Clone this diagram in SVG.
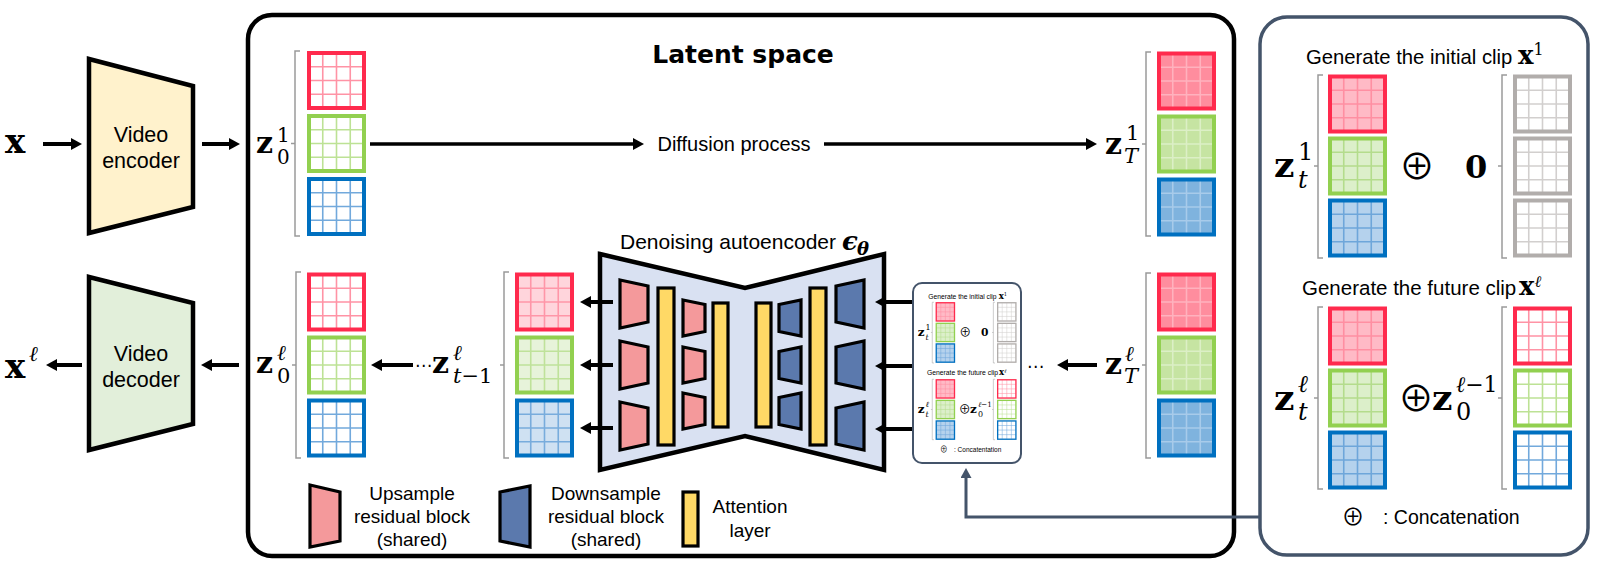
<svg xmlns="http://www.w3.org/2000/svg" xmlns:xlink="http://www.w3.org/1999/xlink" width="1599" height="568" viewBox="0 0 1599 568">
<style>
.txt{font-family:"Liberation Sans",Arial,sans-serif;fill:#000}
.ttl{font-family:"DejaVu Sans",sans-serif;font-weight:bold;font-size:25px;fill:#000}
.m{font-family:"DejaVu Serif","Liberation Serif",serif;fill:#000}
.b{font-weight:bold}
.i{font-style:italic}
.sym{font-family:"DejaVu Sans",sans-serif;fill:#000}
.op{font-family:"Noto Sans CJK JP","Noto Sans CJK SC","DejaVu Sans",sans-serif;fill:#000}
.arr{stroke:#000;stroke-width:4;fill:none}
.arrd{stroke:#000;stroke-width:3.5;fill:none}
.brk{stroke:#9a9a9a;stroke-width:1.5;fill:none}
.blk{stroke:#000;stroke-width:3.2;stroke-linejoin:miter}
.up{fill:#f4999b}
.dn{fill:#5b79ad}
.att{fill:#ffd966}
.gE-r{fill:#fff;stroke:#ff2a4d;color:#ff93a5}
.gE-g{fill:#fff;stroke:#92d050;color:#bde295}
.gE-b{fill:#fff;stroke:#0070c0;color:#72a9dc}
.gL-r{fill:#ffbac6;stroke:#ff2a4d;color:#ff8fa2}
.gL-g{fill:#dcefca;stroke:#92d050;color:#b4dc8c}
.gL-b{fill:#b5d2ed;stroke:#0070c0;color:#6ea6da}
.gP-r{fill:#ffd5dc;stroke:#ff2a4d;color:#ff96a8}
.gP-g{fill:#e7f3da;stroke:#92d050;color:#bfe29a}
.gP-b{fill:#cfe1f2;stroke:#0070c0;color:#78acdc}
.gS-r{fill:#ff8d9e;stroke:#ff2a4d;color:#ffb2be}
.gS-g{fill:#c6e4a2;stroke:#92d050;color:#dcefc6}
.gS-b{fill:#7fb3de;stroke:#0070c0;color:#a8cbea}
.gZ{fill:#fff;stroke:#b1adab;color:#d2cfce}
</style>
<defs>
<marker id="ah" markerUnits="userSpaceOnUse" markerWidth="11" markerHeight="12" viewBox="0 0 11 12" refX="1" refY="6" orient="auto"><path d="M0,0 L11,6 L0,12 Z" fill="#000"/></marker>
<marker id="ahs" markerUnits="userSpaceOnUse" markerWidth="10" markerHeight="11" viewBox="0 0 10 11" refX="1" refY="5.5" orient="auto"><path d="M0,0 L10,5.5 L0,11 Z" fill="#44546a"/></marker>
<g id="grid">
<rect x="2" y="2" width="55" height="55" stroke="none"/>
<path d="M15.75,3V56M29.5,3V56M43.25,3V56M3,15.75H56M3,29.5H56M3,43.25H56" fill="none" stroke="currentColor" stroke-width="1.6"/>
<rect x="2" y="2" width="55" height="55" fill="none" stroke-width="4"/>
</g>
<g id="panelBody">
<text class="txt" x="1306" y="64" font-size="20.3">Generate the initial clip</text>
<text class="m" x="1518" y="64" font-size="26"><tspan class="b">x</tspan><tspan font-size="16" dy="-9">1</tspan></text>
<path class="brk" d="M1323,75H1318V258H1323M1318,166H1314"/>
<use xlink:href="#grid" x="1328" y="74.5" class="gL-r"/>
<use xlink:href="#grid" x="1328" y="136.5" class="gL-g"/>
<use xlink:href="#grid" x="1328" y="198.5" class="gL-b"/>
<text class="m" x="1274" y="177" font-size="36"><tspan class="b">z</tspan><tspan x="1298" y="160" font-size="24">1</tspan><tspan x="1298" y="188" font-size="24" class="i">t</tspan></text>
<text class="op" x="1417" y="180" font-size="36" text-anchor="middle">⊕</text>
<text class="m b" x="1465" y="178" font-size="32">0</text>
<path class="brk" d="M1507,75H1502V258H1507M1502,166H1498"/>
<use xlink:href="#grid" x="1513" y="74.5" class="gZ"/>
<use xlink:href="#grid" x="1513" y="136.5" class="gZ"/>
<use xlink:href="#grid" x="1513" y="198.5" class="gZ"/>
<text class="txt" x="1302" y="295" font-size="20.5">Generate the future clip</text>
<text class="m" x="1519" y="295" font-size="26"><tspan class="b">x</tspan><tspan font-size="16" dy="-8" class="i">ℓ</tspan></text>
<path class="brk" d="M1323,307H1318V489H1323M1318,398H1314"/>
<use xlink:href="#grid" x="1328" y="306.5" class="gL-r"/>
<use xlink:href="#grid" x="1328" y="368.5" class="gL-g"/>
<use xlink:href="#grid" x="1328" y="430.5" class="gL-b"/>
<text class="m" x="1274" y="410" font-size="36"><tspan class="b">z</tspan><tspan x="1298" y="392" font-size="24" class="i">ℓ</tspan><tspan x="1298" y="420" font-size="24" class="i">t</tspan></text>
<text class="op" x="1416" y="412" font-size="36" text-anchor="middle">⊕</text>
<text class="m" x="1432" y="410" font-size="36"><tspan class="b">z</tspan><tspan x="1456" y="392" font-size="22"><tspan class="i">ℓ</tspan>−1</tspan><tspan x="1456" y="420" font-size="24">0</tspan></text>
<path class="brk" d="M1507,307H1502V489H1507M1502,398H1498"/>
<use xlink:href="#grid" x="1513" y="306.5" class="gE-r"/>
<use xlink:href="#grid" x="1513" y="368.5" class="gE-g"/>
<use xlink:href="#grid" x="1513" y="430.5" class="gE-b"/>
<text class="op" x="1353" y="525" font-size="23" text-anchor="middle">⊕</text>
</g>
</defs>
<rect x="0" y="0" width="1599" height="568" fill="#fff"/>

<g id="latent-space">
<rect x="248" y="15" width="986" height="541" rx="24" fill="#fff" stroke="#000" stroke-width="4.5"/>
<text class="ttl" x="743" y="63" text-anchor="middle">Latent space</text>
</g>

<g id="input-x">
<text class="m b" x="5" y="153" font-size="34">x</text>
</g>
<g id="video-encoder">
<polygon points="89,59 193,86 193,207 89,233" fill="#fff2cc" stroke="#000" stroke-width="4.5"/>
<text class="txt" x="141" y="142" font-size="21.5" text-anchor="middle">Video</text>
<text class="txt" x="141" y="168" font-size="21.5" text-anchor="middle">encoder</text>
</g>
<g id="output-x">
<text class="m" x="5" y="378" font-size="34"><tspan class="b">x</tspan><tspan x="29" y="361" font-size="21" class="i">ℓ</tspan></text>
</g>
<g id="video-decoder">
<polygon points="89,277 193,303 193,424 89,450" fill="#e2efda" stroke="#000" stroke-width="4.5"/>
<text class="txt" x="141" y="361" font-size="21.5" text-anchor="middle">Video</text>
<text class="txt" x="141" y="387" font-size="21.5" text-anchor="middle">decoder</text>
</g>

<g id="z0-1">
<text class="m" x="256" y="153" font-size="30"><tspan class="b">z</tspan><tspan x="277" y="142" font-size="20">1</tspan><tspan x="277" y="164" font-size="20">0</tspan></text>
<path class="brk" d="M300,51H295V236H300M295,143.5H291"/>
<use xlink:href="#grid" x="307" y="51" class="gE-r"/>
<use xlink:href="#grid" x="307" y="114" class="gE-g"/>
<use xlink:href="#grid" x="307" y="177" class="gE-b"/>
</g>
<g id="diffusion-label">
<text class="txt" x="734" y="151" font-size="20" text-anchor="middle">Diffusion process</text>
</g>
<g id="zT-1">
<text class="m" x="1105" y="154" font-size="30"><tspan class="b">z</tspan><tspan x="1126" y="140" font-size="21">1</tspan><tspan x="1124" y="163" font-size="21" class="i">T</tspan></text>
<path class="brk" d="M1151,52H1146V236H1151M1146,144H1142"/>
<use xlink:href="#grid" x="1157" y="51.5" class="gS-r"/>
<use xlink:href="#grid" x="1157" y="114.5" class="gS-g"/>
<use xlink:href="#grid" x="1157" y="177.5" class="gS-b"/>
</g>

<g id="z0-l">
<text class="m" x="256" y="373" font-size="30"><tspan class="b">z</tspan><tspan x="277" y="360" font-size="21" class="i">ℓ</tspan><tspan x="277" y="383" font-size="21">0</tspan></text>
<path class="brk" d="M301,272H296V458H301M296,365H292"/>
<use xlink:href="#grid" x="307" y="272.5" class="gE-r"/>
<use xlink:href="#grid" x="307" y="335.5" class="gE-g"/>
<use xlink:href="#grid" x="307" y="398.5" class="gE-b"/>
</g>
<g id="dots-1">
<text class="sym" x="415" y="371" font-size="17">⋯</text>
</g>
<g id="zt-1-l">
<text class="m" x="432" y="373" font-size="30"><tspan class="b">z</tspan><tspan x="453" y="360" font-size="21" class="i">ℓ</tspan><tspan x="453" y="383" font-size="21"><tspan class="i">t</tspan>−1</tspan></text>
<path class="brk" d="M509,272H504V458H509M504,365H500"/>
<use xlink:href="#grid" x="515" y="272.5" class="gP-r"/>
<use xlink:href="#grid" x="515" y="335.5" class="gP-g"/>
<use xlink:href="#grid" x="515" y="398.5" class="gP-b"/>
</g>

<g id="denoising-autoencoder">
<text class="txt" x="620" y="249" font-size="21">Denoising autoencoder</text>
<text class="m b i" x="842" y="250" font-size="26">ϵ<tspan x="857" y="255" font-size="18">θ</tspan></text>
<polygon points="600,254 745,288 884,254 884,470 745,436 600,470" fill="#d9e1f2" stroke="#000" stroke-width="4.5"/>
<g class="blk up">
<polygon points="620,280 648,286 648,322 620,328"/>
<polygon points="620,341 648,347 648,383 620,389"/>
<polygon points="620,402 648,408 648,444 620,450"/>
<polygon points="683,300 705,304.5 705,331.5 683,336"/>
<polygon points="683,347 705,351.5 705,378.5 683,383"/>
<polygon points="683,393 705,397.5 705,424.5 683,429"/>
</g>
<g class="blk dn">
<polygon points="779,304.5 801,300 801,336 779,331.5"/>
<polygon points="779,351.5 801,347 801,383 779,378.5"/>
<polygon points="779,397.5 801,393 801,429 779,424.5"/>
<polygon points="836,286 864,280 864,328 836,322"/>
<polygon points="836,347 864,341 864,389 836,383"/>
<polygon points="836,408 864,402 864,450 836,444"/>
</g>
<g class="blk att">
<rect x="658" y="288" width="16" height="157"/>
<rect x="713" y="303" width="15" height="124"/>
<rect x="756" y="303" width="15" height="124"/>
<rect x="810" y="288" width="16" height="157"/>
</g>
</g>

<g id="inset">
<rect x="913" y="283" width="108" height="180" rx="9" fill="#fff" stroke="#44546a" stroke-width="2"/>
<use xlink:href="#panelBody" transform="translate(913,283) scale(0.332) translate(-1260,-17)"/>
<text class="txt" x="954" y="452" font-size="6.5">: Concatentation</text>
</g>

<g id="dots-2">
<text class="sym" x="1027" y="372" font-size="17">⋯</text>
</g>
<g id="zT-l">
<text class="m" x="1105" y="374" font-size="30"><tspan class="b">z</tspan><tspan x="1125" y="361" font-size="21" class="i">ℓ</tspan><tspan x="1124" y="383" font-size="21" class="i">T</tspan></text>
<path class="brk" d="M1151,273H1146V458H1151M1146,365H1142"/>
<use xlink:href="#grid" x="1157" y="272.5" class="gS-r"/>
<use xlink:href="#grid" x="1157" y="335.5" class="gS-g"/>
<use xlink:href="#grid" x="1157" y="398.5" class="gS-b"/>
</g>

<g id="legend">
<polygon class="blk up" points="310,485 340,492 340,541 310,547" stroke-width="4"/>
<text class="txt" x="412" y="500" font-size="19" text-anchor="middle">Upsample</text>
<text class="txt" x="412" y="523" font-size="19" text-anchor="middle">residual block</text>
<text class="txt" x="412" y="546" font-size="19" text-anchor="middle">(shared)</text>
<polygon class="blk dn" points="500,492 530,486 530,547 500,541" stroke-width="4"/>
<text class="txt" x="606" y="500" font-size="19" text-anchor="middle">Downsample</text>
<text class="txt" x="606" y="523" font-size="19" text-anchor="middle">residual block</text>
<text class="txt" x="606" y="546" font-size="19" text-anchor="middle">(shared)</text>
<rect class="blk att" x="683" y="492" width="15" height="54" stroke-width="4"/>
<text class="txt" x="750" y="513" font-size="19" text-anchor="middle">Attention</text>
<text class="txt" x="750" y="537" font-size="19" text-anchor="middle">layer</text>
</g>

<g id="condition-panel">
<rect x="1260" y="17" width="328" height="538" rx="27" fill="#fff" stroke="#44546a" stroke-width="3.5"/>
<use xlink:href="#panelBody"/>
<text class="txt" x="1383" y="524" font-size="19.5">: Concatenation</text>
</g>

<g id="connectors">
<path class="arr" d="M43,144H72" marker-end="url(#ah)"/>
<path class="arr" d="M202,144H230" marker-end="url(#ah)"/>
<path class="arrd" d="M370,144H634" marker-end="url(#ah)"/>
<path class="arrd" d="M824,144H1087" marker-end="url(#ah)"/>
<path class="arr" d="M82,365H56" marker-end="url(#ah)"/>
<path class="arr" d="M239,365H211" marker-end="url(#ah)"/>
<path class="arr" d="M413,365H381" marker-end="url(#ah)"/>
<path class="arr" d="M613,302H590" marker-end="url(#ah)"/>
<path class="arr" d="M613,365H590" marker-end="url(#ah)"/>
<path class="arr" d="M613,428H590" marker-end="url(#ah)"/>
<path class="arr" d="M912,302H885" marker-end="url(#ah)"/>
<path class="arr" d="M912,366H885" marker-end="url(#ah)"/>
<path class="arr" d="M912,429H885" marker-end="url(#ah)"/>
<path class="arr" d="M1097,365H1067" marker-end="url(#ah)"/>
<path d="M1260,517H966V477" fill="none" stroke="#44546a" stroke-width="3" marker-end="url(#ahs)"/>
</g>
</svg>
